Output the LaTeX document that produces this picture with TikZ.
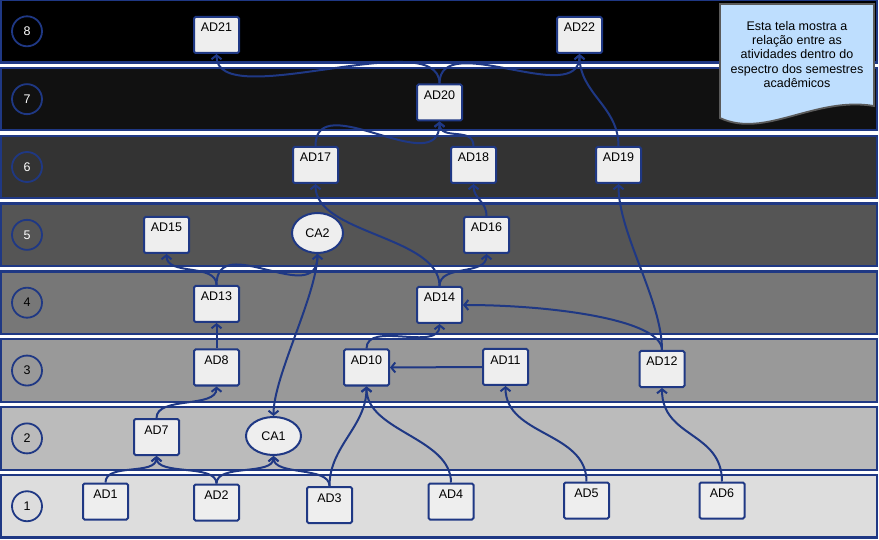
\documentclass[tikz,border=0pt]{standalone}
\usepackage{fontspec}
\setmainfont{Liberation Sans}
\usetikzlibrary{arrows.meta,shapes.geometric}
\definecolor{navy}{RGB}{31,56,132}
\definecolor{paper}{RGB}{238,238,238}
\definecolor{sky}{RGB}{190,222,254}
\definecolor{slate}{RGB}{90,90,90}
\tikzset{
  >={Straight Barb[length=4pt,width=10pt]},
  act/.style={draw=navy,fill=paper,line width=2pt,rounded corners=1.5pt,
    minimum width=45pt,inner xsep=0pt,inner ysep=2pt,text height=13pt,text depth=19pt,
    font=\fontsize{12.5}{14}\selectfont},
  ca/.style={ellipse,draw=navy,fill=paper,line width=2pt,inner sep=0pt,
    font=\fontsize{12.5}{14}\selectfont},
  band/.style={draw=navy,line width=2.2pt,fill=#1},
  num/.style={circle,draw=navy,line width=1.8pt,minimum size=30pt,inner sep=0pt,
    text=#1,font=\fontsize{12.5}{14}\selectfont},
  link/.style={->,draw=navy,line width=2pt},
  rise/.style={out=90,in=-90,distance=#1},
  rise/.default=20pt,
  note/.style={draw=slate,fill=sky,line width=1.8pt},
}

\begin{document}
\begin{tikzpicture}[x=1pt,y=1pt]
  \useasboundingbox (0,0) rectangle (879,539);
  % semester bands
  \foreach \c/\t [count=\k] in {221/black,187/black,153/black,119/black,85/white,51/white,17/white,0/white}{
    \definecolor{bandfill}{RGB}{\c,\c,\c}
    \draw[band=bandfill] (1,{1.5+(\k-1)*67.85}) rectangle (877,{64+(\k-1)*67.85});
    \node[num=\t] (s\k) at (27,{32.75+(\k-1)*67.85}) {\k};
  }
  % note
  \draw[note] (720,535) -- (874,535) -- (874,433) .. controls (815,443) and (765,400) .. (720,421) -- cycle;
  \node[font=\fontsize{12.5}{14.25}\selectfont,align=center] (memo) at (797,484.5)
    {Esta tela mostra a\\relação entre as\\atividades dentro do\\espectro dos semestres\\acadêmicos};
  % activities
  \node[act] (AD1) at (105.5,37.5) {AD1};
  \node[act] (AD2) at (216.5,36.5) {AD2};
  \node[act] (AD3) at (329.5,34) {AD3};
  \node[act] (AD4) at (451,37.5) {AD4};
  \node[act] (AD5) at (586.5,38.5) {AD5};
  \node[act] (AD6) at (722,38.5) {AD6};
  \node[act] (AD7) at (156.5,102) {AD7};
  \node[ca,minimum width=55pt,minimum height=38pt] (CA1) at (273.5,103) {CA1};
  \node[act] (AD8) at (216.5,171.5) {AD8};
  \node[act] (AD10) at (366.5,171.5) {AD10};
  \node[act] (AD11) at (505.5,172) {AD11};
  \node[act] (AD12) at (662,170) {AD12};
  \node[act] (AD13) at (216.5,235) {AD13};
  \node[act] (AD14) at (439.5,234) {AD14};
  \node[act] (AD15) at (166.5,304) {AD15};
  \node[ca,minimum width=51pt,minimum height=40pt] (CA2) at (317.5,306) {CA2};
  \node[act] (AD16) at (486.5,304) {AD16};
  \node[act] (AD17) at (315.5,374) {AD17};
  \node[act] (AD18) at (473.5,374) {AD18};
  \node[act] (AD19) at (618.5,374) {AD19};
  \node[act] (AD20) at (439.5,436.5) {AD20};
  \node[act] (AD21) at (216.5,504) {AD21};
  \node[act] (AD22) at (579.5,504) {AD22};
  % prerequisites
  \draw[link] (AD1.north) to[rise] (AD7.south);
  \draw[link] (AD2.north) to[rise] (AD7.south);
  \draw[link] (AD2.north) to[rise] (CA1.south);
  \draw[link] (AD3.north) to[rise] (CA1.south);
  \draw[link] (AD3.north) to[rise=40pt] (AD10.south);
  \draw[link] (AD4.north) to[rise=45pt] (AD10.south);
  \draw[link] (AD5.north) to[rise=50pt] (AD11.south);
  \draw[link] (AD6.north) to[rise=50pt] (AD12.south);
  \draw[link] (AD7.north) to[rise=22pt] (AD8.south);
  \draw[link] (CA2.south) to[out=-90,in=90,distance=40pt] (CA1.north);
  \draw[link] (AD8.north) -- (AD13.south);
  \draw[link] (AD11.west) -- (AD10.east);
  \draw[link] (AD10.north) to[rise=28pt] (AD14.south);
  \draw[link] (AD12.north) to[out=90,in=0,out distance=30pt,in distance=90pt] (AD14.east);
  \draw[link] (AD12.north) to[rise=50pt] (AD19.south);
  \draw[link] (AD13.north) to[rise=22pt] (AD15.south);
  \draw[link] (AD13.north) to[rise=55pt] (CA2.south);
  \draw[link] (AD14.north) to[rise=22pt] (AD16.south);
  \draw[link] (AD14.north) to[rise=50pt] (AD17.south);
  \draw[link] (AD16.north) to[rise=15pt] (AD18.south);
  \draw[link] (AD17.north) to[rise=60pt] (AD20.south);
  \draw[link] (AD18.north) to[rise=20pt] (AD20.south);
  \draw[link] (AD20.north) to[rise=60pt] (AD21.south);
  \draw[link] (AD20.north) to[rise=55pt] (AD22.south);
  \draw[link] (AD19.north) to[rise=40pt] (AD22.south);
\end{tikzpicture}
\end{document}
